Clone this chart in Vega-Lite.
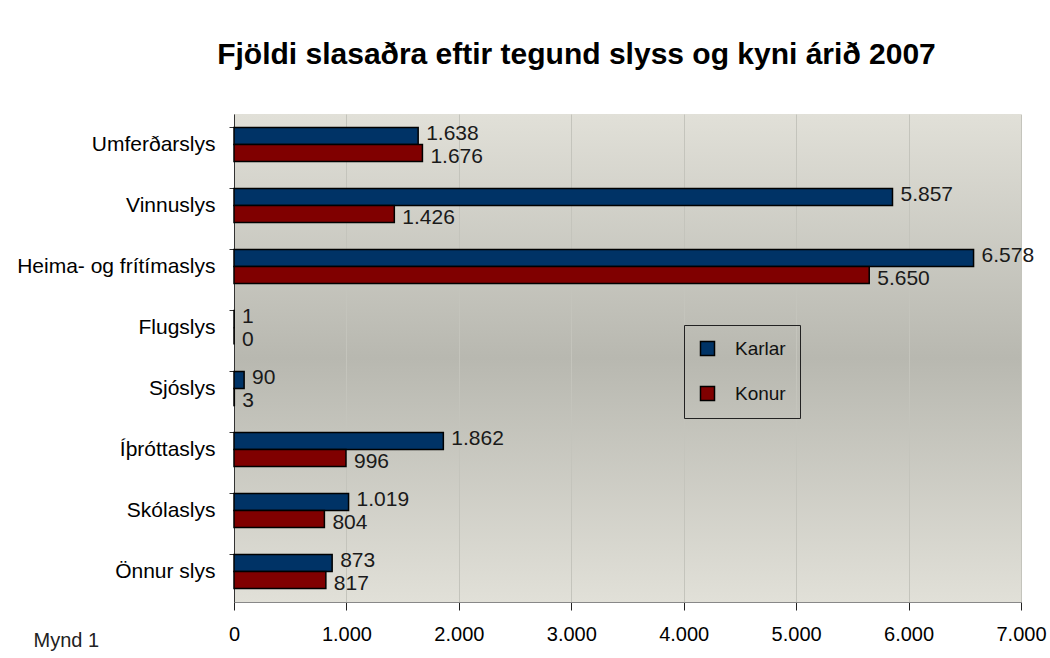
{
  "$schema": "https://vega.github.io/schema/vega-lite/v6.json",
  "width": 787,
  "height": 488,
  "autosize": {"type": "none"},
  "padding": {"left": 234, "top": 114, "right": 29, "bottom": 56},
  "background": "white",
  "title": {
    "text": "Fjöldi slasaðra eftir tegund slyss og kyni árið 2007",
    "font": "Liberation Sans",
    "fontSize": 30,
    "fontWeight": "bold",
    "color": "#000000",
    "anchor": "middle",
    "dx": -51,
    "offset": 44
  },
  "config": {
    "locale": {"number": {"decimal": ",", "thousands": ".", "grouping": [3], "currency": ["", ""]}},
    "view": {
      "stroke": null,
      "fill": {
        "gradient": "linear", "x1": 0, "y1": 0, "x2": 0, "y2": 1,
        "stops": [
          {"offset": 0, "color": "#e1e0d8"},
          {"offset": 0.5, "color": "#b8b8b0"},
          {"offset": 1, "color": "#e1e0d8"}
        ]
      }
    }
  },
  "data": {
    "values": [
      {"tegund": "Umferðarslys", "kyn": "Karlar", "fjoldi": 1638},
      {"tegund": "Umferðarslys", "kyn": "Konur", "fjoldi": 1676},
      {"tegund": "Vinnuslys", "kyn": "Karlar", "fjoldi": 5857},
      {"tegund": "Vinnuslys", "kyn": "Konur", "fjoldi": 1426},
      {"tegund": "Heima- og frítímaslys", "kyn": "Karlar", "fjoldi": 6578},
      {"tegund": "Heima- og frítímaslys", "kyn": "Konur", "fjoldi": 5650},
      {"tegund": "Flugslys", "kyn": "Karlar", "fjoldi": 1},
      {"tegund": "Flugslys", "kyn": "Konur", "fjoldi": 0},
      {"tegund": "Sjóslys", "kyn": "Karlar", "fjoldi": 90},
      {"tegund": "Sjóslys", "kyn": "Konur", "fjoldi": 3},
      {"tegund": "Íþróttaslys", "kyn": "Karlar", "fjoldi": 1862},
      {"tegund": "Íþróttaslys", "kyn": "Konur", "fjoldi": 996},
      {"tegund": "Skólaslys", "kyn": "Karlar", "fjoldi": 1019},
      {"tegund": "Skólaslys", "kyn": "Konur", "fjoldi": 804},
      {"tegund": "Önnur slys", "kyn": "Karlar", "fjoldi": 873},
      {"tegund": "Önnur slys", "kyn": "Konur", "fjoldi": 817}
    ]
  },
  "encoding": {
    "y": {
      "field": "tegund",
      "type": "nominal",
      "sort": ["Umferðarslys", "Vinnuslys", "Heima- og frítímaslys", "Flugslys", "Sjóslys", "Íþróttaslys", "Skólaslys", "Önnur slys"],
      "scale": {"paddingInner": 0.44, "paddingOuter": 0.22},
      "axis": {
        "title": null,
        "bandPosition": 0,
        "labelFont": "Liberation Sans",
        "labelFontSize": 21,
        "labelLimit": 0,
        "labelColor": "#000000",
        "labelPadding": 14,
        "tickSize": 5,
        "tickColor": "#333333",
        "domainColor": "#333333",
        "grid": false
      }
    },
    "yOffset": {
      "field": "kyn",
      "type": "nominal",
      "sort": ["Karlar", "Konur"],
      "scale": {"paddingInner": 0, "paddingOuter": 0}
    },
    "x": {
      "field": "fjoldi",
      "type": "quantitative",
      "scale": {"domain": [0, 7000], "nice": false},
      "axis": {
        "values": [0, 1000, 2000, 3000, 4000, 5000, 6000, 7000],
        "format": ",d",
        "grid": true,
        "gridColor": "#c4c4bc",
        "gridWidth": 1,
        "gridOpacity": 1,
        "labelFont": "Liberation Sans",
        "labelFontSize": 20,
        "labelColor": "#000000",
        "labelPadding": 14,
        "labelFlush": false,
        "tickSize": 8,
        "tickColor": "#222222",
        "domainColor": "#888888",
        "title": "Mynd 1",
        "titleFont": "Liberation Sans",
        "titleFontSize": 20,
        "titleFontWeight": "normal",
        "titleColor": "#222222",
        "titleAlign": "left",
        "titleBaseline": "middle",
        "titleAnchor": "start",
        "titleX": -201,
        "titleY": 38
      }
    }
  },
  "layer": [
    {
      "mark": {"type": "bar", "stroke": "#000000", "strokeWidth": 1.5},
      "encoding": {
        "color": {
          "field": "kyn",
          "type": "nominal",
          "scale": {"domain": ["Karlar", "Konur"], "range": ["#003366", "#800000"]},
          "legend": {
            "title": null,
            "orient": "none",
            "legendX": 450,
            "legendY": 211,
            "direction": "vertical",
            "strokeColor": "#222222",
            "padding": 14,
            "rowPadding": 24,
            "symbolType": "square",
            "symbolSize": 196,
            "symbolStrokeColor": "#000000",
            "symbolStrokeWidth": 1.5,
            "symbolOpacity": 1,
            "labelOffset": 18,
            "labelFont": "Liberation Sans",
            "labelFontSize": 19,
            "labelColor": "#111111"
          }
        }
      }
    },
    {
      "transform": [{"filter": "datum.kyn === 'Karlar'"}],
      "mark": {"type": "text", "align": "left", "baseline": "middle", "dx": 8, "dy": -2, "font": "Liberation Sans", "fontSize": 21, "color": "#1a1a1a"},
      "encoding": {"text": {"field": "fjoldi", "type": "quantitative", "format": ",d"}}
    },
    {
      "transform": [{"filter": "datum.kyn === 'Konur'"}],
      "mark": {"type": "text", "align": "left", "baseline": "middle", "dx": 8, "dy": 4, "font": "Liberation Sans", "fontSize": 21, "color": "#1a1a1a"},
      "encoding": {"text": {"field": "fjoldi", "type": "quantitative", "format": ",d"}}
    }
  ]
}
